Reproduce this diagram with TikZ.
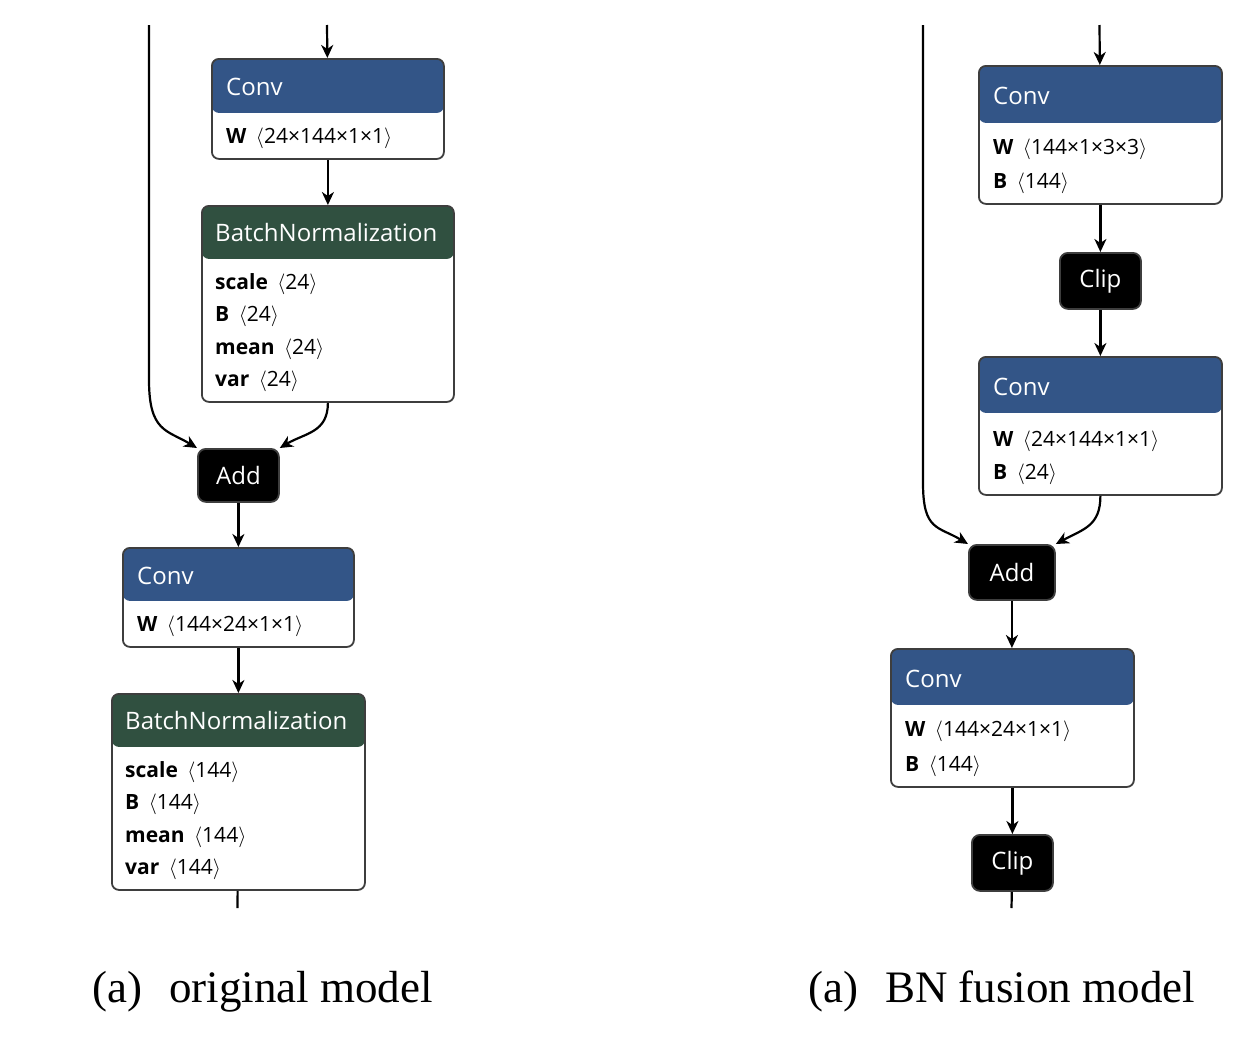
\documentclass[tikz,border=0pt]{standalone}
\usepackage{fontspec}
\setmainfont{Liberation Serif}
\newfontfamily\uifont{Open Sans}
\usetikzlibrary{arrows.meta,calc}

\definecolor{convblue}{RGB}{51,85,135}
\definecolor{bngreen}{RGB}{48,80,64}
\definecolor{boxline}{RGB}{62,62,62}

\newcommand{\shp}[1]{\hspace{0.45em}$\langle$#1$\rangle$}

\tikzset{
  blk/.style={draw=boxline, line width=1.8, rounded corners=7, fill=white, anchor=north west, inner sep=0},
  hdr/.style 2 args={path picture={\fill[#1] (path picture bounding box.north west) rectangle ($(path picture bounding box.north east)+(0,#2)$);}},
  optag/.style={draw=boxline, line width=1.8, rounded corners=8, fill=black, text=white, anchor=north west, inner sep=0, font=\uifont\fontsize{24}{28}\selectfont},
  hdtext/.style={anchor=base west, inner sep=0, text=white, font=\uifont\fontsize{24}{28}\selectfont},
  attrtext/.style={anchor=base west, inner sep=0, font=\uifont\fontsize{21}{24}\selectfont},
  flow/.style={line width=2.2, -{Stealth[length=13pt,width=12pt,inset=4pt]}},
  captext/.style={anchor=base west, inner sep=0, font=\fontsize{45}{50}\selectfont}
}

\begin{document}
\begin{tikzpicture}[x=1pt,y=-1pt]
\useasboundingbox (0,0) rectangle (1252,1039);

%%%%% left: original model
% Conv
\node[blk, hdr={convblue}{54}, minimum width=232, minimum height=100] (conv1) at (211,58) {};
\node[hdtext] (conv1t) at (226,95) {Conv};
\node[attrtext] (conv1w) at (226,143) {\textbf{W}\shp{24×144×1×1}};
% BatchNormalization
\node[blk, hdr={bngreen}{53}, minimum width=252, minimum height=196] (bn1) at (201,205) {};
\node[hdtext] (bn1t) at (215,241) {BatchNormalization};
\node[attrtext] (bn1s) at (215,289) {\textbf{scale}\shp{24}};
\node[attrtext] (bn1b) at (215,321) {\textbf{B}\shp{24}};
\node[attrtext] (bn1m) at (215,354) {\textbf{mean}\shp{24}};
\node[attrtext] (bn1v) at (215,386) {\textbf{var}\shp{24}};
% Add
\node[optag, minimum width=81, minimum height=53] (add1) at (197,448) {Add};
% Conv
\node[blk, hdr={convblue}{53}, minimum width=231, minimum height=99] (conv2) at (122,547) {};
\node[hdtext] (conv2t) at (137,584) {Conv};
\node[attrtext] (conv2w) at (137,631) {\textbf{W}\shp{144×24×1×1}};
% BatchNormalization
\node[blk, hdr={bngreen}{53}, minimum width=253, minimum height=196] (bn2) at (111,693) {};
\node[hdtext] (bn2t) at (125,729) {BatchNormalization};
\node[attrtext] (bn2s) at (125,777) {\textbf{scale}\shp{144}};
\node[attrtext] (bn2b) at (125,809) {\textbf{B}\shp{144}};
\node[attrtext] (bn2m) at (125,842) {\textbf{mean}\shp{144}};
\node[attrtext] (bn2v) at (125,874) {\textbf{var}\shp{144}};

\coordinate (skipl) at (149,25);
\coordinate (inl) at (327,25);
\coordinate (outl) at (237.5,908);

\draw[flow] (inl) -- (conv1);
\draw[flow] (conv1) -- (bn1);
\draw[flow] (skipl) -- ++(0,355) .. controls +(0,52) and +(-30,-18) .. (add1.north west);
\draw[flow] (bn1.south) .. controls +(0,30) and +(25,-15) .. (add1.north east);
\draw[flow] (add1) -- (conv2);
\draw[flow] (conv2) -- (bn2);
\draw[line width=2.2] (bn2) -- (outl);

%%%%% right: BN fusion model
% Conv
\node[blk, hdr={convblue}{57}, minimum width=243, minimum height=138] (conv3) at (978,65) {};
\node[hdtext] (conv3t) at (993,104) {Conv};
\node[attrtext] (conv3w) at (993,154) {\textbf{W}\shp{144×1×3×3}};
\node[attrtext] (conv3b) at (993,188) {\textbf{B}\shp{144}};
% Clip
\node[optag, minimum width=81, minimum height=56] (clip1) at (1059,252) {Clip};
% Conv
\node[blk, hdr={convblue}{56}, minimum width=243, minimum height=138] (conv4) at (978,356) {};
\node[hdtext] (conv4t) at (993,395) {Conv};
\node[attrtext] (conv4w) at (993,446) {\textbf{W}\shp{24×144×1×1}};
\node[attrtext] (conv4b) at (993,479) {\textbf{B}\shp{24}};
% Add
\node[optag, minimum width=86, minimum height=55] (add2) at (968,544) {Add};
% Conv
\node[blk, hdr={convblue}{56}, minimum width=243, minimum height=138] (conv5) at (890,648) {};
\node[hdtext] (conv5t) at (905,687) {Conv};
\node[attrtext] (conv5w) at (905,736) {\textbf{W}\shp{144×24×1×1}};
\node[attrtext] (conv5b) at (905,771) {\textbf{B}\shp{144}};
% Clip
\node[optag, minimum width=81, minimum height=56] (clip2) at (971,834) {Clip};

\coordinate (skipr) at (923,25);
\coordinate (inr) at (1099.5,25);
\coordinate (outr) at (1011.5,908);

\draw[flow] (inr) -- (conv3);
\draw[flow] (conv3) -- (clip1);
\draw[flow] (clip1) -- (conv4);
\draw[flow] (skipr) -- ++(0,458) .. controls +(0,48) and +(-30,-18) .. (add2.north west);
\draw[flow] (conv4.south) .. controls +(0,30) and +(28,-15) .. (add2.north east);
\draw[flow] (add2.south) -- (add2.south |- conv5.north);
\draw[flow] (conv5) -- (clip2);
\draw[line width=2.2] (clip2) -- (outr);

% captions
\node[captext] (capl) at (92,1002) {(a)\hspace{0.6em}original model};
\node[captext] (capr) at (808,1002) {(a)\hspace{0.6em}BN fusion model};
\end{tikzpicture}
\end{document}
